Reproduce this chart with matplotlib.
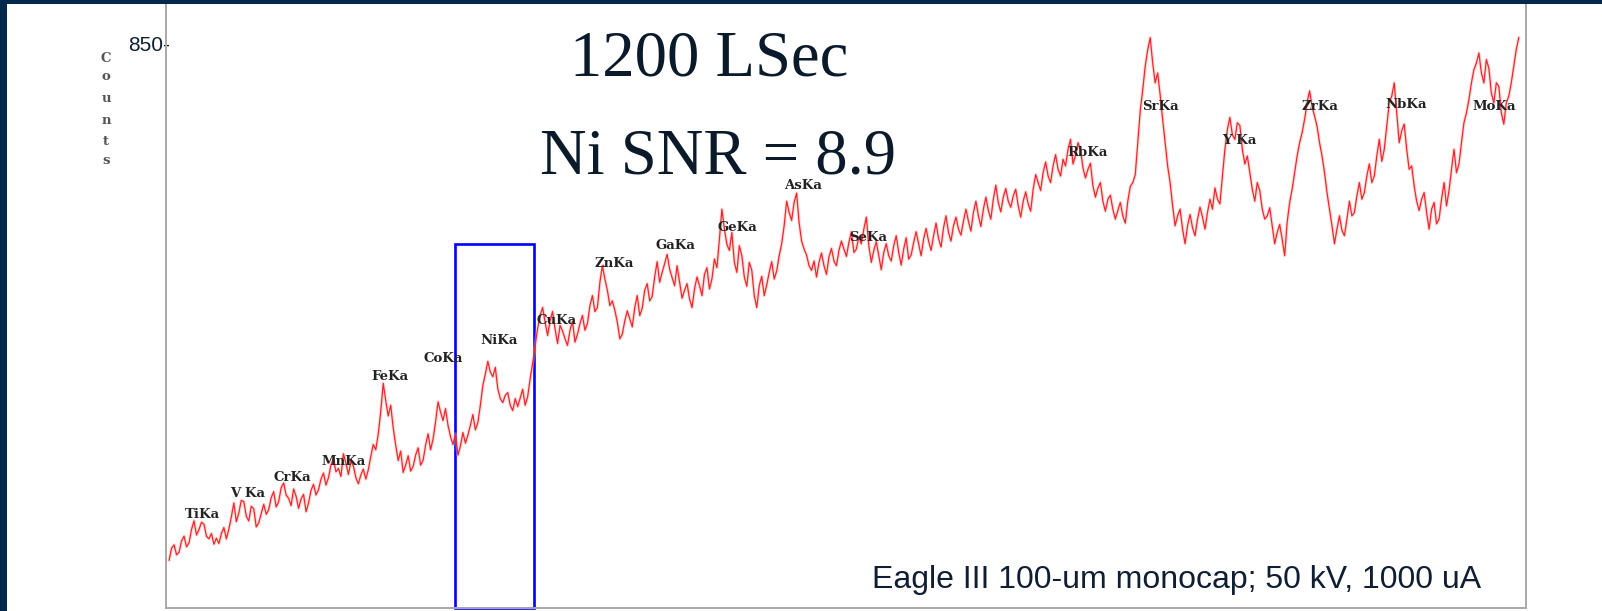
import numpy as np
import matplotlib
matplotlib.use("Agg")
import matplotlib.pyplot as plt
from matplotlib.patches import Rectangle

# ---- spectrum data (energy in keV, counts per channel) ----
energy_start = 4.18
energy_step = 0.025
counts = [
    72, 90, 95, 80, 84, 101, 108, 92, 98, 118, 131, 110, 118, 129, 126, 108, 104, 112, 96, 105,
    97, 112, 121, 104, 119, 137, 158, 130, 143, 162, 160, 138, 131, 153, 149, 122, 128, 142, 156, 141,
    148, 166, 175, 152, 160, 181, 188, 170, 165, 154, 179, 168, 150, 164, 171, 145, 158, 177, 186, 170,
    178, 194, 203, 185, 196, 215, 224, 205, 210, 198, 232, 218, 201, 220, 214, 196, 187, 200, 209, 194,
    208, 228, 246, 238, 262, 296, 338, 312, 289, 305, 271, 245, 222, 236, 204, 215, 229, 206, 213, 230,
    241, 215, 222, 245, 262, 238, 254, 280, 310, 295, 282, 300, 275, 258, 246, 262, 230, 244, 264, 248,
    260, 275, 291, 268, 279, 305, 335, 352, 371, 355, 348, 362, 330, 315, 309, 320, 324, 305, 297, 315,
    303, 316, 329, 305, 318, 345, 368, 395, 421, 440, 452, 430, 410, 432, 446, 420, 398, 425, 417, 405,
    395, 418, 431, 400, 412, 428, 440, 418, 428, 455, 470, 446, 452, 490, 515, 495, 478, 455, 462, 448,
    430, 405, 412, 432, 447, 435, 423, 452, 470, 440, 451, 478, 488, 462, 469, 498, 521, 490, 505, 518,
    532, 510, 497, 485, 515, 490, 466, 478, 488, 465, 452, 480, 498, 485, 470, 502, 512, 480, 495, 525,
    512, 555, 600, 570, 547, 538, 565, 520, 505, 545, 530, 498, 484, 520, 508, 470, 452, 485, 499, 470,
    486, 505, 521, 495, 507, 530, 548, 575, 612, 595, 583, 610, 624, 580, 552, 540, 531, 515, 508, 522,
    498, 520, 534, 515, 502, 528, 541, 522, 515, 538, 552, 540, 529, 550, 566, 535, 540, 558, 548, 570,
    588, 545, 520, 538, 551, 530, 509, 535, 548, 530, 522, 545, 560, 535, 516, 540, 557, 525, 531, 550,
    566, 548, 530, 555, 571, 552, 538, 560, 579, 556, 543, 572, 590, 565, 552, 575, 588, 570, 561, 582,
    600, 582, 567, 595, 612, 590, 574, 600, 618, 598, 585, 615, 636, 610, 596, 618, 631, 612, 603, 620,
    630, 605, 588, 612, 626, 608, 597, 630, 652, 640, 628, 655, 671, 650, 640, 665, 682, 660, 650, 675,
    665, 690, 705, 668, 681, 700, 690, 662, 647, 660, 669, 635, 618, 632, 640, 612, 597, 615, 621, 600,
    585, 598, 610, 590, 579, 612, 634, 640, 652, 700, 748, 780, 815, 840, 858, 820, 790, 805, 772, 735,
    700, 665, 640, 605, 575, 590, 600, 570, 548, 575, 592, 572, 560, 585, 603, 588, 570, 595, 615, 600,
    632, 615, 608, 650, 690, 720, 738, 712, 705, 730, 726, 690, 668, 680, 655, 630, 612, 640, 628, 600,
    585, 590, 602, 575, 548, 565, 577, 555, 530, 580, 610, 630, 655, 680, 700, 715, 735, 760, 778, 755,
    740, 725, 700, 680, 655, 625, 600, 575, 548, 570, 590, 568, 560, 585, 612, 590, 595, 620, 640, 615,
    625, 650, 668, 640, 650, 680, 705, 672, 690, 725, 760, 770, 790, 745, 700, 718, 728, 690, 660, 665,
    635, 612, 598, 615, 625, 595, 570, 600, 610, 578, 585, 615, 640, 605, 628, 660, 690, 655, 668, 700,
    730, 745, 765, 790, 810, 820, 835, 805, 790, 825, 812, 775, 760, 790, 785, 745, 728, 760, 770, 790,
    815, 840, 858,
]
energy = energy_start + energy_step * np.arange(len(counts))

# ---- line labels ----
line_names = ["TiKa", "V Ka", "CrKa", "MnKa", "FeKa", "CoKa", "NiKa", "CuKa",
              "ZnKa", "GaKa", "GeKa", "AsKa", "SeKa", "RbKa", "SrKa", "Y Ka",
              "ZrKa", "NbKa", "MoKa"]
line_energy = [4.51, 4.97, 5.42, 5.93, 6.40, 6.93, 7.49, 8.07,
               8.65, 9.26, 9.89, 10.54, 11.20, 13.40, 14.13, 14.92,
               15.73, 16.60, 17.48]
label_counts = [141, 172, 196, 221, 349, 375, 403, 432,
                518, 546, 573, 636, 557, 685, 754, 703,
                755, 757, 754]

# Ni integration window
ni_window = (7.05, 7.84)
ni_window_top = 548

y_tick = [850]
y_tick_labels = ["850-"]

title_lines = ["1200 LSec", "Ni SNR = 8.9"]
note = "Eagle III 100-um monocap; 50 kV, 1000 uA"

# ---- figure ----
W, H = 1602, 611
fig = plt.figure(figsize=(W / 100, H / 100), dpi=100)
fig.patch.set_facecolor("white")

def fx(px):
    return px / W

def fy(py):
    return 1 - py / H

navy = "#03284f"
fig.patches.append(Rectangle((0, 0), fx(7), 1, transform=fig.transFigure,
                             facecolor=navy, edgecolor="none", zorder=5))
fig.patches.append(Rectangle((0, fy(4)), 1, 4 / H, transform=fig.transFigure,
                             facecolor=navy, edgecolor="none", zorder=5))

ax = fig.add_axes([fx(166), fy(608), fx(1526) - fx(166), (608 - 4) / H])
ax.set_xlim(4.149, 17.803)
ax.set_ylim(0, 908.7)

ax.plot(energy, counts, color="#ffa0a0", lw=2.4, alpha=0.4, solid_joinstyle="round")
ax.plot(energy, counts, color="#ec2a2e", lw=0.9, solid_joinstyle="round")

for name, e, c in zip(line_names, line_energy, label_counts):
    ax.text(e, c, name, ha="center", va="center", fontsize=9.5,
            family="DejaVu Serif", fontweight="bold", color="#222222")

ax.add_patch(Rectangle((ni_window[0], 0), ni_window[1] - ni_window[0], ni_window_top,
                       fill=False, edgecolor="#0000ff", lw=1.9, clip_on=False))

ax.set_xticks([])
ax.set_yticks(y_tick)
ax.set_yticklabels(y_tick_labels, fontsize=15, family="Liberation Sans", color="#0f1e33")
ax.tick_params(axis="y", length=0, pad=-3)
for side in ("left", "right", "bottom"):
    ax.spines[side].set_color("#a8a8a8")
    ax.spines[side].set_linewidth(1.4)
ax.spines["top"].set_visible(False)

# stacked axis title
for ch, py in zip("Counts", [58, 77, 98, 121, 141, 160]):
    fig.text(fx(106), fy(py), ch, ha="center", va="center", fontsize=9.5,
             family="DejaVu Serif", fontweight="bold", color="#555555")

fig.text(fx(709), fy(76), title_lines[0], ha="center", va="baseline",
         fontsize=46.5, family="Liberation Serif", color="#0b1a2b")
fig.text(fx(718), fy(174), title_lines[1], ha="center", va="baseline",
         fontsize=46.5, family="Liberation Serif", color="#0b1a2b")
fig.text(fx(872), fy(588), note, ha="left", va="baseline",
         fontsize=23, family="Liberation Sans", color="#0f1e33")

fig.savefig("out.png", dpi=100, facecolor="white")
